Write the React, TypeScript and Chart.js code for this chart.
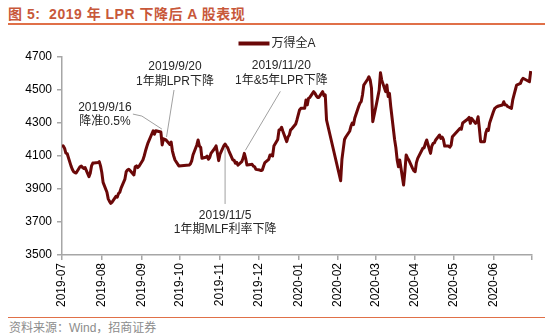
import React, { useEffect, useRef } from "react";
import { Chart, registerables } from "chart.js";

Chart.register(...registerables);

// ---------- data ----------
const seriesName = "万得全A";

const tradeDates = [
  "2019-07-01","2019-07-02","2019-07-03","2019-07-04","2019-07-05","2019-07-08","2019-07-09","2019-07-10","2019-07-11","2019-07-12",
  "2019-07-15","2019-07-16","2019-07-17","2019-07-18","2019-07-19","2019-07-22","2019-07-23","2019-07-24","2019-07-25","2019-07-26",
  "2019-07-29","2019-07-30","2019-07-31",
  "2019-08-01","2019-08-02","2019-08-05","2019-08-06","2019-08-07","2019-08-08","2019-08-09","2019-08-12","2019-08-13","2019-08-14",
  "2019-08-15","2019-08-16","2019-08-19","2019-08-20","2019-08-21","2019-08-22","2019-08-23","2019-08-26","2019-08-27","2019-08-28",
  "2019-08-29","2019-08-30",
  "2019-09-02","2019-09-03","2019-09-04","2019-09-05","2019-09-06","2019-09-09","2019-09-10","2019-09-11","2019-09-12","2019-09-16",
  "2019-09-17","2019-09-18","2019-09-19","2019-09-20","2019-09-23","2019-09-24","2019-09-25","2019-09-26","2019-09-27","2019-09-30",
  "2019-10-08","2019-10-09","2019-10-10","2019-10-11","2019-10-14","2019-10-15","2019-10-16","2019-10-17","2019-10-18","2019-10-21",
  "2019-10-22","2019-10-23","2019-10-24","2019-10-25","2019-10-28","2019-10-29","2019-10-30","2019-10-31",
  "2019-11-01","2019-11-04","2019-11-05","2019-11-06","2019-11-07","2019-11-08","2019-11-11","2019-11-12","2019-11-13","2019-11-14",
  "2019-11-15","2019-11-18","2019-11-19","2019-11-20","2019-11-21","2019-11-22","2019-11-25","2019-11-26","2019-11-27","2019-11-28",
  "2019-11-29",
  "2019-12-02","2019-12-03","2019-12-04","2019-12-05","2019-12-06","2019-12-09","2019-12-10","2019-12-11","2019-12-12","2019-12-13",
  "2019-12-16","2019-12-17","2019-12-18","2019-12-19","2019-12-20","2019-12-23","2019-12-24","2019-12-25","2019-12-26","2019-12-27",
  "2019-12-30","2019-12-31",
  "2020-01-02","2020-01-03","2020-01-06","2020-01-07","2020-01-08","2020-01-09","2020-01-10","2020-01-13","2020-01-14","2020-01-15",
  "2020-01-16","2020-01-17","2020-01-20","2020-01-21","2020-01-22","2020-01-23",
  "2020-02-03","2020-02-04","2020-02-05","2020-02-06","2020-02-07","2020-02-10","2020-02-11","2020-02-12","2020-02-13","2020-02-14",
  "2020-02-17","2020-02-18","2020-02-19","2020-02-20","2020-02-21","2020-02-24","2020-02-25","2020-02-26","2020-02-27","2020-02-28",
  "2020-03-02","2020-03-03","2020-03-04","2020-03-05","2020-03-06","2020-03-09","2020-03-10","2020-03-11","2020-03-12","2020-03-13",
  "2020-03-16","2020-03-17","2020-03-18","2020-03-19","2020-03-20","2020-03-23","2020-03-24","2020-03-25","2020-03-26","2020-03-27",
  "2020-03-30","2020-03-31",
  "2020-04-01","2020-04-02","2020-04-03","2020-04-07","2020-04-08","2020-04-09","2020-04-10","2020-04-13","2020-04-14","2020-04-15",
  "2020-04-16","2020-04-17","2020-04-20","2020-04-21","2020-04-22","2020-04-23","2020-04-24","2020-04-27","2020-04-28","2020-04-29",
  "2020-04-30",
  "2020-05-06","2020-05-07","2020-05-08","2020-05-11","2020-05-12","2020-05-13","2020-05-14","2020-05-15","2020-05-18","2020-05-19",
  "2020-05-20","2020-05-21","2020-05-22","2020-05-25","2020-05-26","2020-05-27","2020-05-28","2020-05-29",
  "2020-06-01","2020-06-02","2020-06-03","2020-06-04","2020-06-05","2020-06-08","2020-06-09","2020-06-10","2020-06-11","2020-06-12",
  "2020-06-15","2020-06-16","2020-06-17","2020-06-18","2020-06-19","2020-06-22","2020-06-23","2020-06-24","2020-06-29","2020-06-30",
];

const wdqaValues = [
  4165,4160,4147,4118,4115,4040,4020,4005,4000,3997,
  4035,4039,4030,4025,4030,3975,3995,4040,4057,4058,
  4060,4066,4040,
  4000,3940,3880,3840,3825,3813,3820,3855,3850,3872,
  3880,3905,3960,4005,4015,4020,4012,3985,4035,4040,
  4030,4038,
  4076,4100,4130,4156,4180,4235,4253,4232,4253,4245,
  4167,4205,4200,4197,4170,4185,4130,4100,4076,4040,
  4045,4052,4070,4106,4167,4197,4160,4153,4086,4092,
  4100,4080,4090,4116,4147,4161,4120,4072,
  4110,4161,4173,4160,4150,4130,4076,4075,4056,4062,
  4045,4066,4086,4116,4086,4045,4048,4050,4039,4035,
  4019,
  4015,4012,4015,4039,4060,4080,4106,4106,4100,4160,
  4200,4258,4260,4274,4250,4187,4215,4227,4258,4265,
  4294,4320,
  4379,4389,4389,4439,4410,4450,4455,4490,4480,4465,
  4455,4455,4490,4465,4470,4318,
  3950,4080,4140,4200,4215,4250,4280,4300,4290,4330,
  4400,4420,4430,4470,4530,4565,4580,4560,4510,4308,
  4420,4460,4500,4605,4560,4490,4530,4460,4480,4400,
  4200,4150,4076,4035,4076,3924,4005,4106,4090,4076,
  4025,4010,
  4005,4060,4086,4147,4150,4177,4197,4116,4160,4177,
  4180,4197,4227,4207,4215,4200,4160,4160,4153,4165,
  4217,
  4268,4262,4300,4318,4325,4334,4298,4328,4298,4305,
  4338,4268,4187,4187,4240,4262,4255,4300,
  4370,4389,4395,4400,4403,4409,4429,4410,4409,4400,
  4389,4440,4470,4500,4530,4540,4560,4571,4550,4615,
];

const monthLabels = [
  "2019-07","2019-08","2019-09","2019-10","2019-11","2019-12",
  "2020-01","2020-02","2020-03","2020-04","2020-05","2020-06",
];
const axisEndDate = "2020-07-01";

const yMin = 3500;
const yMax = 4700;
const yStep = 200;

const annotationDates = ["2019-09-16", "2019-09-20", "2019-11-20", "2019-11-05"];
const annotationTexts = [
  ["2019/9/16", "降准0.5%"],
  ["2019/9/20", "1年期LPR下降"],
  ["2019/11/20", "1年&5年LPR下降"],
  ["2019/11/5", "1年期MLF利率下降"],
];

const titleText = "图 5:  2019 年 LPR 下降后 A 股表现";
const sourceText = "资料来源：Wind，招商证券";

// ---------- helpers ----------
const ORIGIN = Date.parse("2019-07-01T00:00:00Z");
const dayOf = (s: string) => (Date.parse(s + "T00:00:00Z") - ORIGIN) / 86400000;
const monthTicks = [...monthLabels.map((m) => dayOf(m + "-01")), dayOf(axisEndDate)];

// label layout relative to each anchor (pixels)
const annotationLayout = [
  { text: [-56, -24, -10], leader: [[-28, -18], [-19, -16], [1, -3]] },
  { text: [9, -73, -58], leader: [[8, -50], [0.5, -3]] },
  { text: [37, -88, -73], leader: [[36, -62], [1, -3]] },
  { text: [0, 72, 86], leader: [[0, 4], [0, 60]] },
];

const FONT = "'Liberation Sans', Arial, 'Noto Sans CJK SC', sans-serif";
const LINE_COLOR = "#6B0808";
const AXIS_COLOR = "#A6A6A6";

const annotationPlugin = {
  id: "lprAnnotations",
  afterDatasetsDraw(chart: any) {
    const { ctx, scales } = chart;
    const xs = scales.x;
    const ys = scales.y;
    ctx.save();
    annotationDates.forEach((d, i) => {
      const idx = tradeDates.indexOf(d);
      const ax = xs.getPixelForValue(dayOf(d));
      const ay = ys.getPixelForValue(wdqaValues[idx]);
      const lay = annotationLayout[i];
      ctx.strokeStyle = "#A0A0A0";
      ctx.lineWidth = 1;
      ctx.beginPath();
      lay.leader.forEach((p, j) => {
        const px = ax + p[0];
        const py = ay + p[1];
        if (j === 0) ctx.moveTo(px, py);
        else ctx.lineTo(px, py);
      });
      ctx.stroke();
      ctx.fillStyle = "#262626";
      ctx.font = `12px ${FONT}`;
      ctx.textAlign = "center";
      ctx.textBaseline = "middle";
      ctx.fillText(annotationTexts[i][0], ax + lay.text[0], ay + lay.text[1]);
      ctx.fillText(annotationTexts[i][1], ax + lay.text[0], ay + lay.text[2]);
    });

    // legend (line sample + series name), centred over the canvas
    ctx.font = `12px ${FONT}`;
    const sample = 31;
    const gap = 2;
    const tw = ctx.measureText(seriesName).width;
    const total = sample + gap + tw;
    const lx = chart.width / 2 - total / 2 + 2;
    const ly = 15.5;
    ctx.strokeStyle = LINE_COLOR;
    ctx.lineWidth = 4;
    ctx.lineCap = "butt";
    ctx.beginPath();
    ctx.moveTo(lx, ly);
    ctx.lineTo(lx + sample, ly);
    ctx.stroke();
    ctx.fillStyle = "#262626";
    ctx.textAlign = "left";
    ctx.textBaseline = "middle";
    ctx.fillText(seriesName, lx + sample + gap, ly);
    ctx.restore();
  },
};

export default function App() {
  const canvasRef = useRef<HTMLCanvasElement | null>(null);

  useEffect(() => {
    if (!canvasRef.current) return;
    const chart = new Chart(canvasRef.current, {
      type: "line",
      data: {
        datasets: [
          {
            label: seriesName,
            data: tradeDates.map((d, i) => ({ x: dayOf(d), y: wdqaValues[i] })),
            borderColor: LINE_COLOR,
            backgroundColor: LINE_COLOR,
            borderWidth: 3,
            pointRadius: 0,
            tension: 0,
            borderJoinStyle: "round",
          },
        ],
      },
      options: {
        animation: false,
        responsive: false,
        devicePixelRatio: 1,
        layout: { padding: { top: 29, right: 18, left: 0, bottom: 0 } },
        plugins: {
          legend: { display: false },
          tooltip: { enabled: false },
          title: { display: false },
        },
        scales: {
          x: {
            type: "linear",
            min: 0,
            max: dayOf(axisEndDate),
            afterBuildTicks: (scale: any) => {
              scale.ticks = monthTicks.map((v) => ({ value: v }));
            },
            afterFit: (scale: any) => {
              scale.height = 61;
            },
            grid: {
              display: true,
              drawOnChartArea: false,
              drawTicks: true,
              tickLength: 5,
              color: AXIS_COLOR,
              lineWidth: 1.5,
            },
            border: { display: true, color: AXIS_COLOR, width: 1.5 },
            ticks: {
              autoSkip: false,
              minRotation: 90,
              maxRotation: 90,
              padding: 3,
              color: "#000",
              font: { size: 12, family: FONT },
              callback: (_v: any, i: number) => monthLabels[i] ?? "",
            },
          },
          y: {
            type: "linear",
            min: yMin,
            max: yMax,
            afterFit: (scale: any) => {
              scale.width = 62;
            },
            grid: {
              display: true,
              drawOnChartArea: false,
              drawTicks: true,
              tickLength: 5,
              color: AXIS_COLOR,
              lineWidth: 1.5,
            },
            border: { display: true, color: AXIS_COLOR, width: 1.5 },
            ticks: {
              stepSize: yStep,
              padding: 5,
              color: "#000",
              font: { size: 12, family: FONT },
              callback: (v: any) => String(v),
            },
          },
        },
      },
      plugins: [annotationPlugin],
    });
    return () => chart.destroy();
  }, []);

  return (
    <div style={{ position: "absolute", left: 0, top: 0, width: 550, height: 336, background: "#fff", overflow: "hidden" }}>
      <div
        style={{
          position: "absolute",
          left: 8,
          top: 5,
          fontFamily: FONT,
          fontWeight: "bold",
          fontSize: 14,
          letterSpacing: "0.5px",
          lineHeight: "18px",
          color: "#C8583A",
          whiteSpace: "pre",
        }}
      >
        {titleText}
      </div>
      <div style={{ position: "absolute", left: 8, top: 23, width: 537, height: 2, background: "#E07048" }} />
      <canvas
        ref={canvasRef}
        width={550}
        height={288}
        style={{ position: "absolute", left: 0, top: 28, width: 550, height: 288 }}
      />
      <div style={{ position: "absolute", left: 8, top: 317, width: 537, height: 1, background: "#E07048" }} />
      <div
        style={{
          position: "absolute",
          left: 9,
          top: 320,
          fontFamily: FONT,
          fontSize: 12,
          lineHeight: "16px",
          color: "#8C8C8C",
          whiteSpace: "pre",
        }}
      >
        {sourceText}
      </div>
    </div>
  );
}
